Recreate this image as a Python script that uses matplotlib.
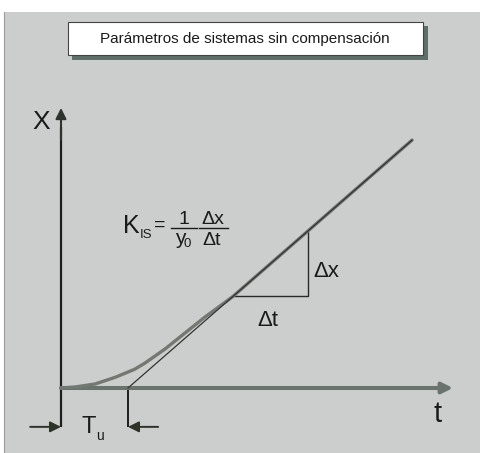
import matplotlib.pyplot as plt
from matplotlib.patches import Rectangle

plt.rcParams['font.family'] = ['Liberation Sans', 'DejaVu Sans']

# step response of a system without self-regulation (time in units of Tu)
t_curve = [0.0, 0.21, 0.51, 0.81, 1.10, 1.25, 1.55, 1.85, 2.15, 2.45, 2.57, 5.24]
x_curve = [0.0, 0.015, 0.06, 0.16, 0.28, 0.37, 0.58, 0.82, 1.06, 1.28, 1.37, 3.70]

# tangent to the linear part, crosses the time axis at Tu
t_tangent = [1.0, 5.24]
x_tangent = [0.0, 3.70]

# slope triangle
t_tri = [2.57, 3.69, 3.69]
x_tri = [1.37, 1.37, 2.34]

tu = 1.0
t_axis_end = 5.85
x_axis_end = 4.18
below = -0.58

title = 'Parámetros de sistemas sin compensación'

W, H = 481, 453
fig = plt.figure(figsize=(W / 100, H / 100), dpi=100)
fig.patch.set_facecolor('white')

# background panel, title box and labels in pixel coordinates
bg = fig.add_axes([0, 0, 1, 1])
bg.set_xlim(0, W)
bg.set_ylim(H, 0)
bg.axis('off')
bg.add_patch(Rectangle((4, 12), W - 4, H - 12, facecolor='#cbcecd', edgecolor='none'))
bg.plot([4.5, 4.5], [12, H], color='#9a9c9a', lw=0.8)
bg.add_patch(Rectangle((72, 26), 356, 34, facecolor='#5f6e68', edgecolor='none'))
bg.add_patch(Rectangle((68, 22), 355, 33, facecolor='white', edgecolor='#444444', lw=0.8))
bg.text(245, 38.5, title, ha='center', va='center', fontsize=11, color='#1a1a1a')

# diagram axes: 67 px per unit, origin at pixel (61, 388)
ax = fig.add_axes([0, 0, 1, 1])
ax.patch.set_alpha(0)
ax.set_xlim(-61 / 67, (W - 61) / 67)
ax.set_ylim(-(H - 388) / 67, 388 / 67)
ax.axis('off')

axis_grey = '#6a736e'
dark = '#1e1e1e'

# time axis
ax.annotate('', xy=(t_axis_end, 0), xytext=(0, 0),
            arrowprops=dict(arrowstyle='-|>', color=axis_grey, lw=2.9,
                            mutation_scale=16, shrinkA=0, shrinkB=0))
# output axis, extended below the time axis
ax.plot([0, 0], [below, 3.9], color=dark, lw=1.6, solid_capstyle='butt')
ax.annotate('', xy=(0, x_axis_end), xytext=(0, 3.7),
            arrowprops=dict(arrowstyle='-|>', color='#2e332e', lw=1.5,
                            mutation_scale=16, shrinkA=0, shrinkB=0))

ax.plot(t_curve, x_curve, color='#737873', lw=2.4, solid_capstyle='round',
        solid_joinstyle='round', zorder=3)
ax.plot(t_tangent, x_tangent, color='#333333', lw=0.9, zorder=4)
ax.plot(t_tri, x_tri, color='#2a2a2a', lw=1.0, zorder=2)

# Tu marker
ax.plot([tu, tu], [0, below], color=dark, lw=1.4, solid_capstyle='butt')
ax.annotate('', xy=(0, below), xytext=(-0.46, below),
            arrowprops=dict(arrowstyle='-|>', color='#2d3328', lw=1.4,
                            mutation_scale=16, shrinkA=0, shrinkB=0))
ax.annotate('', xy=(tu, below), xytext=(1.45, below),
            arrowprops=dict(arrowstyle='-|>', color='#2d3328', lw=1.4,
                            mutation_scale=16, shrinkA=0, shrinkB=0))

ink = '#1a1a1a'
lab = dict(color=ink, ha='left', va='baseline')
bg.text(32, 129, 'X', fontsize=19, **lab)
bg.text(434, 422, 't', fontsize=21, **lab)
bg.text(82, 433, 'T', fontsize=17, **lab)
bg.text(96, 440, 'u', fontsize=10, **lab)
bg.text(257, 326, 'Δt', fontsize=16, **lab)
bg.text(313, 277, 'Δx', fontsize=16, **lab)

# K_IS = 1/y0 * dx/dt
bg.text(123, 233, 'K', fontsize=18, **lab)
bg.text(140, 238, 'IS', fontsize=9.5, **lab)
bg.text(154, 230, '=', fontsize=14, **lab)
bg.text(179, 224, '1', fontsize=14, **lab)
bg.plot([171, 197], [227.5, 227.5], color=ink, lw=1.0)
bg.text(175, 244, 'y', fontsize=15, **lab)
bg.text(184, 247, '0', fontsize=9.5, **lab)
bg.text(201, 224, 'Δx', fontsize=14, **lab)
bg.plot([199, 228], [227.5, 227.5], color=ink, lw=1.0)
bg.text(202, 245, 'Δt', fontsize=14, **lab)

fig.savefig('out.png', dpi=100)
